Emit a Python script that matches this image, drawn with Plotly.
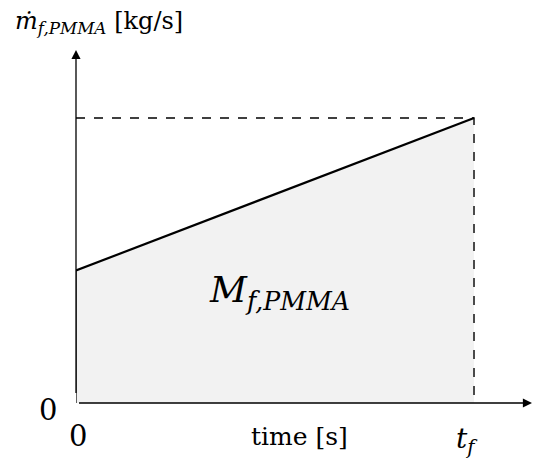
import plotly.graph_objects as go

# schematic values: time normalised to t_f, mass flow normalised to its final value
t = [0, 1]
m_dot = [0.465, 1.0]
x_ticks = ['0', '<i>t</i><sub><i>f</i></sub>']
y_ticks = ['0']

font = 'DejaVu Serif'
x_max = 1.1457
y_max = 1.2386

fig = go.Figure()

# shaded area under the mass flow line
fig.add_trace(go.Scatter(x=t, y=m_dot, mode='lines', fill='tozeroy',
                         fillcolor='#f2f2f2',
                         line=dict(color='black', width=2.2),
                         showlegend=False, hoverinfo='skip'))

# dashed guides to the final value
fig.add_trace(go.Scatter(x=[t[0], t[1], t[1]], y=[m_dot[1], m_dot[1], 0],
                         mode='lines',
                         line=dict(color='black', width=1.4, dash='dash'),
                         showlegend=False, hoverinfo='skip'))

# left edge of the shaded area
fig.add_trace(go.Scatter(x=[t[0], t[0]], y=[0, m_dot[0]], mode='lines',
                         line=dict(color='black', width=1.2),
                         showlegend=False, hoverinfo='skip'))

# axes drawn as arrows
for (x, y) in [(x_max, 0), (0, y_max)]:
    fig.add_annotation(x=x, y=y, ax=0, ay=0,
                       xref='x', yref='y', axref='x', ayref='y',
                       showarrow=True, arrowhead=2, arrowsize=1.4,
                       arrowwidth=1.3, arrowcolor='black', text=' ')

# labels in paper coordinates (they sit outside the axis ranges)
labels = [
    (-0.0614, -0.0198, y_ticks[0], 29),
    (0.0044, -0.0935, x_ticks[0], 29),
    (0.491, -0.0963, 'time [s]', 25),
    (0.858, -0.1076, x_ticks[1], 28),
    (0.447, 0.314, '<i>M</i><sub><i>f,PMMA</i></sub>', 36),
]
for (x, y, text, size) in labels:
    fig.add_annotation(x=x, y=y, xref='paper', yref='paper', text=text,
                       xanchor='center', yanchor='middle', showarrow=False,
                       font=dict(family=font, size=size, color='black'))

fig.add_annotation(x=-0.138, y=1.079, xref='paper', yref='paper',
                   xanchor='left', yanchor='middle', showarrow=False,
                   text='<i>ṁ</i><sub><i>f,PMMA</i></sub> [kg/s]',
                   font=dict(family=font, size=24, color='black'))

fig.update_xaxes(range=[0, x_max], visible=False, fixedrange=True)
fig.update_yaxes(range=[0, y_max], visible=False, fixedrange=True)
fig.update_layout(width=534, height=458,
                  margin=dict(l=76, r=2, t=50, b=55),
                  plot_bgcolor='white', paper_bgcolor='white')

fig.write_html("out.html", config={'displayModeBar': False},
               post_script="document.body.style.margin='0';")
